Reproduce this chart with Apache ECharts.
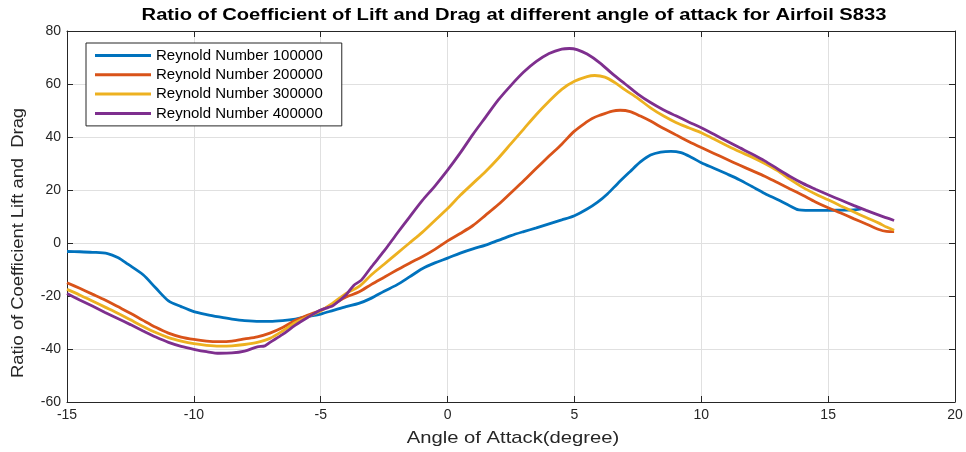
<!DOCTYPE html>
<html>
<head>
<meta charset="utf-8">
<script src="https://cdn.jsdelivr.net/npm/echarts@6/dist/echarts.min.js"></script>
<style>
  html, body { margin: 0; padding: 0; background: #ffffff; }
  #chart { width: 966px; height: 452px; }
</style>
</head>
<body>
<div id="chart"></div>
<script>
// Lift/drag ratio of airfoil S833 against angle of attack, one curve per Reynolds number.
const seriesNames = ['Reynold Number 100000', 'Reynold Number 200000', 'Reynold Number 300000', 'Reynold Number 400000'];
const seriesColors = ['#0072BD', '#D95319', '#EDB120', '#7E2F8E'];

const titleText = 'Ratio of Coefficient of Lift and Drag at different angle of attack for Airfoil S833';
const xAxisTitle = 'Angle of Attack(degree)';
const yAxisTitle = 'Ratio of Coefficient Lift and  Drag';

const xTicks = [-15, -10, -5, 0, 5, 10, 15, 20];
const yTicks = [-60, -40, -20, 0, 20, 40, 60, 80];

// [angle (degree), Cl/Cd]
const re100000 = [
  [-15, -3.2], [-14.5, -3.3], [-14, -3.5], [-13.4, -4], [-13, -5.5], [-12.6, -8], [-12, -12],
  [-11.5, -17], [-11, -21.8], [-10.5, -24], [-10, -25.9], [-9.5, -27], [-9, -27.9], [-8.5, -28.7],
  [-8, -29.3], [-7.4, -29.6], [-7, -29.6], [-6.5, -29.3], [-6, -28.7], [-5.5, -27.7], [-5, -26.8],
  [-4.5, -25.4], [-4, -24], [-3.5, -22.8], [-3, -20.8], [-2.5, -18.2], [-2, -15.8], [-1.5, -12.8],
  [-1, -9.7], [-0.5, -7.5], [0, -5.7], [0.5, -3.8], [1, -2.2], [1.5, -0.8], [2, 1], [2.5, 2.8],
  [3, 4.3], [3.5, 5.7], [4, 7.2], [4.5, 8.7], [5, 10.3], [5.5, 12.8], [5.9, 15.3], [6.3, 18.5],
  [6.7, 22.4], [7.2, 27], [7.6, 30.6], [8, 33.2], [8.4, 34.3], [8.8, 34.6], [9.2, 34.1], [9.6, 32.4],
  [10, 30.3], [10.5, 28.2], [11, 26.1], [11.5, 23.9], [12, 21.3], [12.5, 18.7], [13, 16.4],
  [13.5, 14], [13.85, 12.5], [14.5, 12.3], [15, 12.3], [15.5, 12.4], [16, 12.5], [16.3, 12.9]
];
const re200000 = [
  [-15, -15], [-14.5, -17.1], [-14, -19.3], [-13.5, -21.5], [-13, -24], [-12.5, -26.5], [-12, -29.2],
  [-11.5, -31.8], [-11, -34], [-10.5, -35.5], [-10, -36.4], [-9.5, -37], [-9, -37.2], [-8.5, -37],
  [-8, -36.2], [-7.5, -35.4], [-7, -34], [-6.5, -31.9], [-6, -29.2], [-5.5, -27.2], [-5, -25.4],
  [-4.5, -23], [-4, -20.4], [-3.5, -18.5], [-3, -15.6], [-2.5, -12.9], [-2, -10.2], [-1.5, -7.6],
  [-1, -5.2], [-0.5, -2.4], [0, 0.8], [0.5, 3.6], [1, 6.6], [1.5, 10.5], [2, 14.5], [2.5, 19],
  [3, 23.5], [3.5, 28.2], [4, 32.8], [4.5, 37.3], [5, 42.2], [5.5, 45.8], [5.7, 47], [6, 48.2],
  [6.5, 49.8], [6.8, 50.1], [7.2, 49.6], [7.6, 47.9], [8, 46], [8.5, 43.3], [9, 40.8], [9.5, 38.3],
  [10, 36], [10.5, 33.8], [11, 31.6], [11.5, 29.4], [12, 27.3], [12.5, 25.2], [13, 22.8],
  [13.5, 20.4], [14, 18], [14.5, 15.5], [15, 13.3], [15.5, 11.3], [16, 9.2], [16.5, 7.2],
  [17, 5.1], [17.3, 4.4], [17.6, 4.3]
];
const re300000 = [
  [-15, -17.5], [-14.5, -19.6], [-14, -21.9], [-13.5, -24.2], [-13, -26.5], [-12.5, -29], [-12, -31.5],
  [-11.5, -33.8], [-11, -35.7], [-10.5, -37], [-10, -38], [-9.5, -38.6], [-9, -38.9], [-8.5, -38.8],
  [-8, -38.3], [-7.5, -37.5], [-7, -36], [-6.5, -33.2], [-6, -30], [-5.5, -27.8], [-5, -25.7],
  [-4.5, -22.5], [-4, -19], [-3.5, -16.5], [-3, -12], [-2.5, -8], [-2, -4], [-1.5, 0], [-1, 4],
  [-0.5, 8.5], [0, 13], [0.5, 18], [1, 22.5], [1.5, 27], [2, 32], [2.5, 37.5], [3, 43],
  [3.5, 48.5], [4, 53.5], [4.5, 58], [5, 61], [5.5, 62.8], [5.8, 63.2], [6.2, 62.6], [6.6, 60.5],
  [7, 57.8], [7.5, 54.6], [8, 51], [8.5, 48], [9, 45.5], [9.5, 43.5], [10, 41.6], [10.5, 39.2],
  [11, 36.8], [11.5, 34.5], [12, 32.4], [12.5, 30], [13, 27.3], [13.5, 24], [14, 21], [14.5, 18.5],
  [15, 16.3], [15.5, 14], [16, 11.8], [16.5, 9.6], [17, 7.5], [17.3, 6], [17.6, 4.8]
];
const re400000 = [
  [-15, -19.1], [-14.5, -21.5], [-14, -23.8], [-13.5, -26.2], [-13, -28.5], [-12.5, -30.8], [-12, -33.2],
  [-11.5, -35.5], [-11, -37.5], [-10.5, -39], [-10, -40.1], [-9.5, -41], [-9, -41.6], [-8.5, -41.5],
  [-8, -40.8], [-7.5, -39.2], [-7.2, -38.8], [-7, -37.5], [-6.5, -34.5], [-6, -31], [-5.5, -28],
  [-5, -25.3], [-4.7, -24.3], [-4.5, -23.5], [-4, -19.5], [-3.7, -16], [-3.4, -14], [-3, -9],
  [-2.5, -3], [-2, 3.5], [-1.5, 9.8], [-1, 16], [-0.5, 21.5], [0, 27.5], [0.5, 34], [1, 41],
  [1.5, 47.5], [2, 54], [2.5, 59.5], [3, 64.5], [3.5, 68.5], [4, 71.5], [4.5, 73.2], [4.8, 73.4],
  [5.1, 73], [5.5, 71.3], [6, 68], [6.5, 63.8], [7, 60], [7.5, 56.2], [8, 53], [8.5, 50.3], [9, 48],
  [9.5, 45.7], [10, 43.5], [10.5, 41], [11, 38.5], [11.5, 36], [12, 33.6], [12.5, 31], [13, 28],
  [13.5, 25.1], [14, 22.5], [14.5, 20.3], [15, 18.2], [15.5, 16.2], [16, 14.2], [16.5, 12.3],
  [17, 10.5], [17.6, 8.5]
];

const seriesData = [re100000, re200000, re300000, re400000];

const FONT = '"Liberation Sans", Arial, Helvetica, sans-serif';
const AXIS_COLOR = '#262626';
const GRID_COLOR = '#e0e0e0';

const xMin = xTicks[0], xMax = xTicks[xTicks.length - 1];
const yMin = yTicks[0], yMax = yTicks[yTicks.length - 1];
const xStep = xTicks[1] - xTicks[0];
const yStep = yTicks[1] - yTicks[0];

function valueAxis(extra) {
  return Object.assign({
    type: 'value',
    axisLine: { show: true, onZero: false, lineStyle: { color: AXIS_COLOR, width: 1 } },
    axisTick: { show: true, inside: true, length: 6, lineStyle: { color: AXIS_COLOR } },
    axisLabel: { color: AXIS_COLOR, fontFamily: FONT, fontSize: 14, margin: 6 },
    splitLine: { show: false }
  }, extra);
}

const chart = echarts.init(document.getElementById('chart'), null, { renderer: 'canvas' });

chart.setOption({
  animation: false,
  backgroundColor: '#ffffff',
  grid: { left: 67, right: 11, top: 31, bottom: 50, containLabel: false },
  legend: {
    orient: 'vertical',
    left: 86,
    top: 43,
    padding: [5, 19, 5, 9],
    itemGap: 4.3,
    itemWidth: 56,
    itemHeight: 3,
    icon: 'rect',
    backgroundColor: '#ffffff',
    borderColor: AXIS_COLOR,
    borderWidth: 1,
    textStyle: { fontFamily: FONT, fontSize: 15, lineHeight: 14, color: '#000000' },
    data: seriesNames
  },
  xAxis: [
    valueAxis({
      position: 'bottom', min: xMin, max: xMax, interval: xStep,
      splitLine: { show: true, lineStyle: { color: GRID_COLOR, width: 1 } }
    }),
    valueAxis({
      position: 'top', min: xMin, max: xMax, interval: xStep,
      axisLabel: { show: false }
    })
  ],
  yAxis: [
    valueAxis({
      position: 'left', min: yMin, max: yMax, interval: yStep,
      splitLine: { show: true, lineStyle: { color: GRID_COLOR, width: 1 } }
    }),
    valueAxis({
      position: 'right', min: yMin, max: yMax, interval: yStep,
      axisLabel: { show: false }
    })
  ],
  // Title and axis titles, set in a slightly widened face
  graphic: [
    {
      type: 'text', x: 514, y: 16, scaleX: 1.26,
      style: {
        text: titleText, fill: '#000000', font: 'bold 16px ' + FONT,
        textAlign: 'center', textVerticalAlign: 'middle'
      }
    },
    {
      type: 'text', x: 513, y: 438, scaleX: 1.19,
      style: {
        text: xAxisTitle, fill: AXIS_COLOR, font: '17px ' + FONT,
        textAlign: 'center', textVerticalAlign: 'middle'
      }
    },
    {
      type: 'text', x: 18, y: 243, rotation: Math.PI / 2, scaleX: 1.08,
      style: {
        text: yAxisTitle, fill: AXIS_COLOR, font: '17px ' + FONT,
        textAlign: 'center', textVerticalAlign: 'middle'
      }
    }
  ],
  series: seriesNames.map((name, i) => ({
    name: name,
    type: 'line',
    xAxisIndex: 0,
    yAxisIndex: 0,
    data: seriesData[i],
    symbol: 'none',
    smooth: 0.3,
    lineStyle: { color: seriesColors[i], width: 2.8 },
    itemStyle: { color: seriesColors[i] },
    z: 2 + i
  }))
});
</script>
</body>
</html>
